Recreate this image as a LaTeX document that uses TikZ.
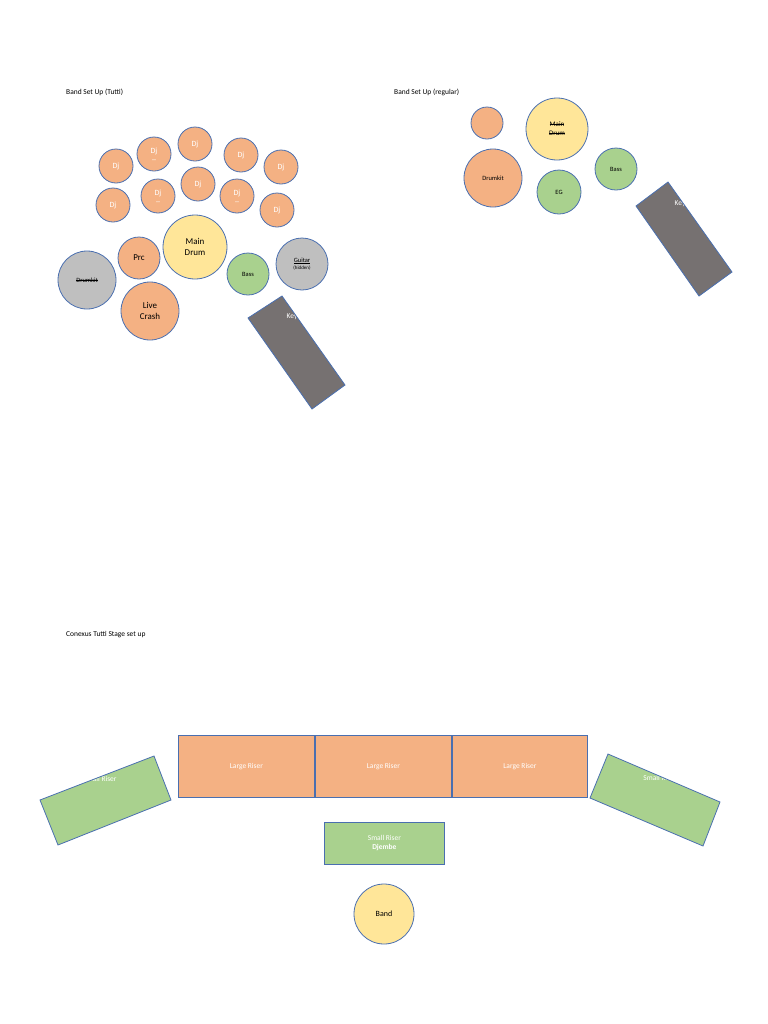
\documentclass[tikz,border=0pt]{standalone}
\usepackage{fontspec}
\setmainfont{Carlito}
\newcommand\strk[1]{\setbox0\hbox{#1}\rlap{\rule[0.6ex]{\wd0}{0.4pt}}\box0}
\newcommand\undl[1]{\setbox0\hbox{#1}\rlap{\rule[-0.3ex]{\wd0}{0.4pt}}\box0}
\definecolor{org}{HTML}{F4B183}
\definecolor{yel}{HTML}{FFE699}
\definecolor{grn}{HTML}{A9D18E}
\definecolor{gry}{HTML}{BFBFBF}
\definecolor{dgr}{HTML}{767171}
\definecolor{bdr}{HTML}{4A6FB0}
\tikzset{
 pc/.style={circle,draw=bdr,line width=0.8pt,inner sep=0pt,align=center,font=\fontsize{8}{9}\selectfont},
 djc/.style={pc,fill=org,minimum size=34bp,text=white},
 shp/.style={draw=bdr,line width=0.8pt},
 ttl/.style={anchor=west,font=\fontsize{7.5}{9}\selectfont,inner sep=0pt},
 wt/.style={text=white,font=\fontsize{7.5}{9}\selectfont,align=center,inner sep=0pt}
}
\begin{document}
\begin{tikzpicture}[x=1bp,y=-1bp]
\useasboundingbox (0,0) rectangle (768,1024);
\node[ttl] (t1) at (66,92) {Band Set Up (Tutti)};
\node[ttl] (t2) at (394,92) {Band Set Up (regular)};
\node[ttl] (t3) at (66,635) {Conexus Tutti Stage set up};
% Tutti
\node[djc] (d1) at (116,166) {Dj};
\node[djc] (d2) at (154,154) {Dj\\[-3pt]\_};
\node[djc] (d3) at (195,144) {Dj};
\node[djc] (d4) at (241,155) {Dj};
\node[djc] (d5) at (281,167) {Dj};
\node[djc] (d6) at (113,205) {Dj};
\node[djc] (d7) at (158,196) {Dj\\[-3pt]\_};
\node[djc] (d8) at (198,184) {Dj};
\node[djc] (d9) at (237,196) {Dj\\[-3pt]\_};
\node[djc] (d10) at (277,210) {Dj};
\node[pc,fill=org,minimum size=42bp,font=\fontsize{9}{10}\selectfont] (prc) at (139,258) {Prc};
\node[pc,fill=yel,minimum size=64bp,font=\fontsize{9}{11}\selectfont] (md) at (195,247) {Main\\Drum};
\node[pc,fill=gry,minimum size=58bp,font=\fontsize{6.5}{8}\selectfont] (dk) at (87,280) {\strk{Drumkit}};
\node[pc,fill=org,minimum size=58bp,font=\fontsize{9}{11}\selectfont] (lc) at (150,311) {Live\\Crash};
\node[pc,fill=grn,minimum size=42bp,font=\fontsize{6.5}{8}\selectfont] (bs) at (248,274) {Bass};
\node[pc,fill=gry,minimum size=52bp,font=\fontsize{6.5}{8}\selectfont] (gt) at (302,264) {\undl{Guitar}\\[-1pt]{\fontsize{5}{6}\selectfont (hidden)}};
\fill[dgr] (248,318)--(282,296)--(345,385)--(312,409)--cycle;
\begin{scope}
\clip (248,318)--(282,296)--(345,385)--(312,409)--cycle;
\node[wt] (k1) at (292,317) {Key};
\end{scope}
\draw[shp] (248,318)--(282,296)--(345,385)--(312,409)--cycle;
% regular
\node[pc,fill=org,minimum size=32bp] (r0) at (487,123) {};
\node[pc,fill=yel,minimum size=62bp,font=\fontsize{7}{9}\selectfont] (rmd) at (557,129) {\strk{Main}\\\strk{Drum}};
\node[pc,fill=org,minimum size=58bp,font=\fontsize{6.5}{8}\selectfont] (rdk) at (493,178) {Drumkit};
\node[pc,fill=grn,minimum size=44bp,font=\fontsize{6.5}{8}\selectfont] (reg) at (559,192) {EG};
\node[pc,fill=grn,minimum size=42bp,font=\fontsize{6.5}{8}\selectfont] (rbs) at (616,169) {Bass};
\fill[dgr] (636,206)--(668,182)--(732,272)--(699,296)--cycle;
\begin{scope}
\clip (636,206)--(668,182)--(732,272)--(699,296)--cycle;
\node[wt] (k2) at (680,204) {Key};
\end{scope}
\draw[shp] (636,206)--(668,182)--(732,272)--(699,296)--cycle;
% stage
\node[shp,fill=org,minimum width=136bp,minimum height=62bp,wt,anchor=north west] (lr1) at (178,735) {Large Riser};
\node[shp,fill=org,minimum width=136bp,minimum height=62bp,wt,anchor=north west] (lr2) at (315,735) {Large Riser};
\node[shp,fill=org,minimum width=135bp,minimum height=62bp,wt,anchor=north west] (lr3) at (452,735) {Large Riser};
\node[shp,fill=grn,minimum width=120bp,minimum height=42bp,wt,anchor=north west] (sr) at (324,822) {Small Riser\\\textbf{Djembe}};
\node[pc,fill=yel,minimum size=60bp] (band) at (384,914) {Band};
\fill[grn] (40,800)--(154,756)--(171,800)--(58,845)--cycle;
\begin{scope}
\clip (40,800)--(154,756)--(171,800)--(58,845)--cycle;
\node[wt] (sl) at (100,779) {Small Riser};
\end{scope}
\draw[shp] (40,800)--(154,756)--(171,800)--(58,845)--cycle;
\fill[grn] (608,754)--(720,802)--(703,846)--(590,798)--cycle;
\begin{scope}
\clip (608,754)--(720,802)--(703,846)--(590,798)--cycle;
\node[wt] (srr) at (660,778) {Small Riser};
\end{scope}
\draw[shp] (608,754)--(720,802)--(703,846)--(590,798)--cycle;
\end{tikzpicture}
\end{document}
